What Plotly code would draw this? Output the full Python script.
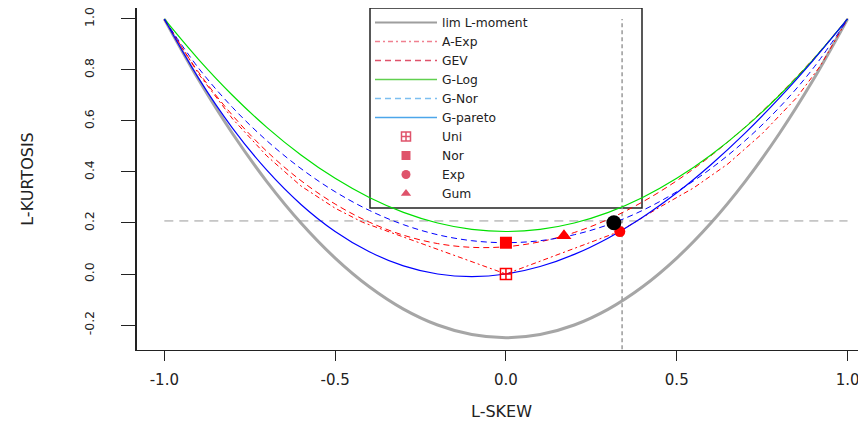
import plotly.graph_objects as go

# ---------------- data ----------------
skew_grid = [-1.0, -0.9, -0.8, -0.7, -0.6, -0.5, -0.4, -0.3, -0.2, -0.1, 0.0,
             0.1, 0.2, 0.3, 0.4, 0.5, 0.6, 0.7, 0.8, 0.9, 1.0]

lim_kurt = [1.0, 0.7625, 0.55, 0.3625, 0.2, 0.0625, -0.05, -0.1375, -0.2, -0.2375, -0.25,
            -0.2375, -0.2, -0.1375, -0.05, 0.0625, 0.2, 0.3625, 0.55, 0.7625, 1.0]
gev_kurt = [0.9966, 0.7916, 0.6214, 0.4808, 0.3661, 0.2743, 0.2034, 0.1521, 0.1193, 0.1045, 0.1070,
            0.1265, 0.1626, 0.2148, 0.2827, 0.3658, 0.4638, 0.5762, 0.7029, 0.8443, 1.0008]
glog_kurt = [1.0, 0.8417, 0.7, 0.575, 0.4667, 0.375, 0.3, 0.2417, 0.2, 0.175, 0.1667,
             0.175, 0.2, 0.2417, 0.3, 0.375, 0.4667, 0.575, 0.7, 0.8417, 1.0]
gnor_kurt = [0.9981, 0.8077, 0.6526, 0.5227, 0.4133, 0.3226, 0.2495, 0.1935, 0.1540, 0.1306, 0.1228,
             0.1306, 0.1540, 0.1935, 0.2495, 0.3226, 0.4133, 0.5227, 0.6526, 0.8077, 0.9981]
gpar_kurt = [1.0, 0.7683, 0.5714, 0.4070, 0.2727, 0.1667, 0.0870, 0.0319, 0.0, -0.0102, 0.0,
             0.0294, 0.0769, 0.1415, 0.2222, 0.3182, 0.4286, 0.5526, 0.6897, 0.8390, 1.0]

aexp_skew = [-1.0, -0.9, -0.8, -0.7, -0.6, -0.5, -0.42, 0.0, 0.333, 0.45, 0.55, 0.65, 0.75, 0.85, 0.92, 1.0]
aexp_kurt = [1.0, 0.785, 0.608, 0.463, 0.345, 0.258, 0.203, 0.0, 0.167, 0.262, 0.338, 0.432, 0.55, 0.69, 0.815, 1.0]

point_names = ["Uni", "Nor", "Exp", "Gum"]
point_skew = [0.0, 0.0, 0.3333, 0.1699]
point_kurt = [0.0, 0.1226, 0.1667, 0.1504]

sample_skew = [0.316]
sample_kurt = [0.201]
mean_skew = 0.34
mean_kurt = 0.208

x_tickvals = [-1.0, -0.5, 0.0, 0.5, 1.0]
x_ticktext = ["-1.0", "-0.5", "0.0", "0.5", "1.0"]
y_tickvals = [-0.2, 0.0, 0.2, 0.4, 0.6, 0.8, 1.0]
y_ticktext = ["-0.2", "0.0", "0.2", "0.4", "0.6", "0.8", "1.0"]

# ---------------- styles ----------------
FONT = "DejaVu Sans"
INK = "#222222"
symbols = {"Uni": "square-cross-open", "Nor": "square", "Exp": "circle", "Gum": "triangle-up"}
sizes = {"Uni": 11, "Nor": 12, "Exp": 11, "Gum": 13}
LEG_RED = "#DF536B"

# page body has an 8px margin; the figure is sized to fit the 866x421 window
FIG_W, FIG_H = 858, 413

fig = go.Figure()

# theoretical limit
fig.add_trace(go.Scatter(x=skew_grid, y=lim_kurt, mode="lines", line=dict(color="#A6A6A6", width=3, shape="spline"),
                         showlegend=False, hoverinfo="skip"))
# reference dashed lines
fig.add_trace(go.Scatter(x=[-1.0, 1.0], y=[mean_kurt, mean_kurt], mode="lines",
                         line=dict(color="#9A9A9A", width=1, dash="9px,6px"), showlegend=False, hoverinfo="skip"))
fig.add_trace(go.Scatter(x=[mean_skew, mean_skew], y=[-0.35, 1.0], mode="lines",
                         line=dict(color="#9A9A9A", width=1.5, dash="4px,3px"), showlegend=False, hoverinfo="skip"))

# curves
fig.add_trace(go.Scatter(x=aexp_skew, y=aexp_kurt, mode="lines",
                         line=dict(color="red", width=1, dash="5px,3px,2px,3px"), showlegend=False))
fig.add_trace(go.Scatter(x=skew_grid, y=gev_kurt, mode="lines",
                         line=dict(color="red", width=1, dash="6px,4px", shape="spline"), showlegend=False))
fig.add_trace(go.Scatter(x=skew_grid, y=glog_kurt, mode="lines",
                         line=dict(color="#00E000", width=1.2, shape="spline"), showlegend=False))
fig.add_trace(go.Scatter(x=skew_grid, y=gnor_kurt, mode="lines",
                         line=dict(color="blue", width=1, dash="6px,4px", shape="spline"), showlegend=False))
fig.add_trace(go.Scatter(x=skew_grid, y=gpar_kurt, mode="lines",
                         line=dict(color="blue", width=1.2, shape="spline"), showlegend=False))

# distribution points
for n, sx, sy in zip(point_names, point_skew, point_kurt):
    if symbols[n].endswith("open"):
        mk = dict(symbol=symbols[n], size=sizes[n], color="red", line=dict(color="red", width=1.5))
    else:
        mk = dict(symbol=symbols[n], size=sizes[n], color="red", line=dict(width=0))
    fig.add_trace(go.Scatter(x=[sx], y=[sy], mode="markers", marker=mk, showlegend=False))

# sample point
fig.add_trace(go.Scatter(x=sample_skew, y=sample_kurt, mode="markers",
                         marker=dict(symbol="circle", size=15, color="black"), showlegend=False))

# ---------------- legend entries ----------------
leg_lines = [
    ("lim L-moment", "#9E9E9E", 2, "solid"),
    ("A-Exp", "#F08090", 1.5, "5px,3px,2px,3px"),
    ("GEV", LEG_RED, 1.5, "6px,4px"),
    ("G-Log", "#61D04F", 1.5, "solid"),
    ("G-Nor", "#7DBFF0", 1.5, "6px,4px"),
    ("G-pareto", "#4DA6EA", 1.5, "solid"),
]
for name, col, w, d in leg_lines:
    fig.add_trace(go.Scatter(x=[None], y=[None], mode="lines", name=name,
                             line=dict(color=col, width=w, dash=d)))
for n in point_names:
    if symbols[n].endswith("open"):
        mk = dict(symbol=symbols[n], size=9, color=LEG_RED, line=dict(color=LEG_RED, width=1.5))
    else:
        mk = dict(symbol=symbols[n], size=9, color=LEG_RED, line=dict(width=0))
    fig.add_trace(go.Scatter(x=[None], y=[None], mode="markers", name=n, marker=mk))

plot_w = FIG_W - 129
legend_left = (362 - 129) / plot_w
legend_right = (634 - 129) / plot_w

fig.update_layout(
    width=FIG_W, height=FIG_H, autosize=False,
    margin=dict(l=129, r=0, t=0, b=71, autoexpand=False),
    paper_bgcolor="white", plot_bgcolor="white",
    font=dict(family=FONT, color=INK),
    showlegend=True,
    legend=dict(x=legend_left, y=1.0, xanchor="left", yanchor="top",
                bgcolor="rgba(0,0,0,0)", borderwidth=0,
                font=dict(family=FONT, size=12.3, color=INK),
                itemwidth=62, tracegroupgap=0),
    shapes=[dict(type="rect", xref="paper", yref="paper", layer="below",
                 x0=legend_left, x1=legend_right, y0=1 - 200 / 342, y1=1.0,
                 line=dict(color=INK, width=1.5), fillcolor="white")],
    xaxis=dict(range=[-1.08, 1.054], showgrid=False, zeroline=False,
               showline=True, linecolor=INK, linewidth=1, mirror=True,
               ticks="outside", ticklen=10, tickcolor=INK,
               tickvals=x_tickvals, ticktext=x_ticktext,
               tickfont=dict(family=FONT, size=15, color=INK),
               ticklabelstandoff=6, ticklabeloverflow="allow",
               title=dict(text="L-SKEW", font=dict(family=FONT, size=16, color=INK), standoff=18),
               automargin=False),
    yaxis=dict(range=[-0.298, 1.043], showgrid=False, zeroline=False,
               showline=True, linecolor=INK, linewidth=2, mirror=False,
               ticks="outside", ticklen=14, tickcolor=INK,
               tickvals=y_tickvals, ticktext=y_ticktext, tickangle=-90,
               tickfont=dict(family=FONT, size=12.5, color=INK),
               ticklabelstandoff=22, ticklabeloverflow="allow",
               title=dict(text="L-KURTOSIS", font=dict(family=FONT, size=16, color=INK), standoff=44),
               automargin=False),
)

fig.write_html("out.html")
